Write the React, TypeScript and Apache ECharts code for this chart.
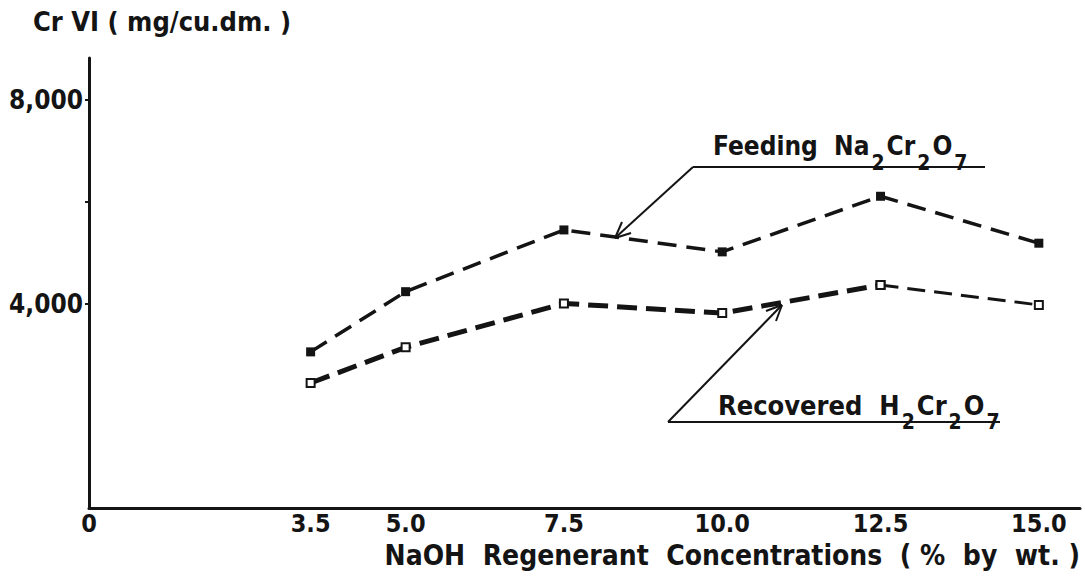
import React, { useEffect, useRef } from "react";
import * as echarts from "echarts";

// ---- data ----
const xValues = [3.5, 5.0, 7.5, 10.0, 12.5, 15.0];
const feedingValues = [3060, 4240, 5450, 5020, 6110, 5190];
const recoveredValues = [2450, 3150, 4010, 3820, 4370, 3980];
const xTickValues = [0, 3.5, 5.0, 7.5, 10.0, 12.5, 15.0];
const yTickValues = [4000, 8000];
const yMinorTicks = [4000, 6000, 8000];

const yTitle = "Cr VI ( mg/cu.dm. )";
const xTitle = "NaOH  Regenerant  Concentrations  ( %  by  wt. )";

const FONT = '"DejaVu Sans Condensed", "DejaVu Sans", sans-serif';
const INK = "#141414";

function fmtY(v: number) {
  return v.toLocaleString("en-US");
}

export default function App() {
  const ref = useRef<HTMLDivElement>(null);

  useEffect(() => {
    if (!ref.current) return;
    const chart = echarts.init(ref.current, undefined, { renderer: "svg" });

    const feedData = xValues.map((x, i) => [x, feedingValues[i]]);
    const recData = xValues.map((x, i) => [x, recoveredValues[i]]);
    const recThick = recData.slice(0, 5);
    const recThin = recData.slice(4);

    const makeRich = (size: number) => ({
      m: { fontFamily: FONT, fontWeight: "bold", fontSize: size, fill: INK, color: INK, lineHeight: 30, verticalAlign: "top" },
      s: { fontFamily: FONT, fontWeight: "bold", fontSize: 21, fill: INK, color: INK, lineHeight: 30, verticalAlign: "top", padding: [19, 2, 0, 2] },
    });

    const arrowLine = (x1: number, y1: number, x2: number, y2: number) => ({
      type: "line",
      shape: { x1, y1, x2, y2 },
      style: { stroke: INK, lineWidth: 2 },
      silent: true,
    });

    const option = {
      animation: false,
      backgroundColor: "#ffffff",
      grid: { left: 89, top: 58, right: 5, bottom: 77, containLabel: false },
      xAxis: {
        type: "value",
        min: 0,
        max: 15.65,
        axisLine: { show: true, onZero: false, lineStyle: { color: INK, width: 3 } },
        axisTick: { show: false },
        splitLine: { show: false },
        axisLabel: {
          customValues: xTickValues,
          formatter: (v: number) => (v === 0 ? "0" : v.toFixed(1)),
          fontFamily: FONT,
          fontWeight: "bold",
          fontSize: 25,
          color: INK,
          margin: 3,
        },
      },
      yAxis: {
        type: "value",
        min: 0,
        max: 8820,
        axisLine: { show: true, lineStyle: { color: INK, width: 3 } },
        axisTick: { show: true, customValues: yMinorTicks, length: 4, lineStyle: { color: INK, width: 2 } },
        splitLine: { show: false },
        axisLabel: {
          customValues: yTickValues,
          formatter: (v: number) => fmtY(v),
          fontFamily: FONT,
          fontWeight: "bold",
          fontSize: 26,
          color: INK,
          margin: 6,
        },
      },
      series: [
        {
          name: "Feeding Na2Cr2O7",
          type: "line",
          data: feedData,
          symbol: "rect",
          symbolSize: 9,
          itemStyle: { color: INK },
          lineStyle: { color: INK, width: 3.5, type: [19, 10] },
        },
        {
          name: "Recovered H2Cr2O7",
          type: "line",
          data: recThick,
          symbol: "rect",
          symbolSize: 8,
          itemStyle: { color: "#ffffff", borderColor: INK, borderWidth: 2 },
          lineStyle: { color: INK, width: 5, type: [20, 9] },
          z: 3,
        },
        {
          name: "Recovered H2Cr2O7 (end)",
          type: "line",
          data: recThin,
          symbol: "rect",
          symbolSize: 8,
          itemStyle: { color: "#ffffff", borderColor: INK, borderWidth: 2 },
          lineStyle: { color: INK, width: 3, type: [18, 9] },
          z: 3,
        },
      ],
      graphic: [
        {
          type: "text",
          left: 33,
          top: 8,
          style: { text: yTitle, font: `bold 27px ${FONT}`, fill: INK },
        },
        {
          type: "text",
          right: 5,
          top: 541,
          style: { text: xTitle, font: `bold 28px ${FONT}`, fill: INK },
        },
        // Feeding label
        {
          type: "text",
          x: 713,
          y: 133,
          style: { text: "{m|Feeding  Na}{s|2}{m|Cr}{s|2}{m|O}{s|7}", rich: makeRich(26) },
        },
        { type: "line", shape: { x1: 693, y1: 167, x2: 985, y2: 167 }, style: { stroke: INK, lineWidth: 2 } },
        arrowLine(693, 167, 615, 238),
        arrowLine(615, 238, 631, 233),
        arrowLine(615, 238, 622, 222),
        // Recovered label
        {
          type: "text",
          x: 718,
          y: 392,
          style: { text: "{m|Recovered  H}{s|2}{m|Cr}{s|2}{m|O}{s|7}", rich: makeRich(27) },
        },
        { type: "line", shape: { x1: 668, y1: 422, x2: 1000, y2: 422 }, style: { stroke: INK, lineWidth: 2 } },
        arrowLine(668, 422, 782, 305),
        arrowLine(782, 305, 766, 311),
        arrowLine(782, 305, 776, 321),
      ],
    };

    chart.setOption(option as any);
    return () => chart.dispose();
  }, []);

  return (
    <div
      ref={ref}
      style={{ position: "fixed", left: 0, top: 0, width: 1085, height: 585, background: "#fff" }}
    />
  );
}
